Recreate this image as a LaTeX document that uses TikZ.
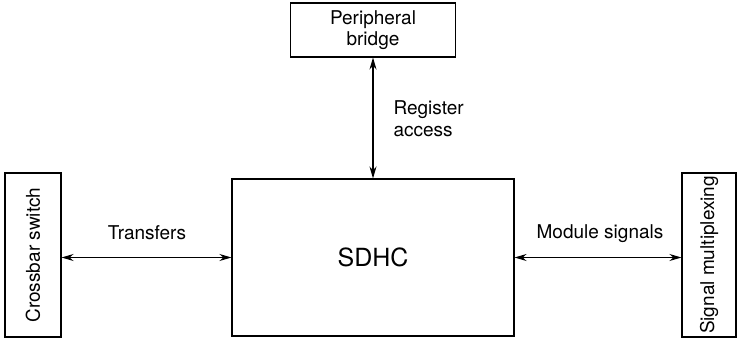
\documentclass[tikz,border=0pt]{standalone}
\usepackage{fontspec}
\setmainfont{TeX Gyre Heros}
\usetikzlibrary{arrows.meta, positioning}
\tikzset{
  blk/.style={draw, line width=1.1pt, inner sep=0pt, align=center, font=\fontsize{19}{21.5}\selectfont},
  link/.style={{Stealth[length=12pt,width=7pt]}-{Stealth[length=12pt,width=7pt]}, line width=1.1pt},
  lbl/.style={font=\fontsize{19}{22}\selectfont, align=left}
}
\begin{document}
\begin{tikzpicture}[x=1pt, y=-1pt]
\useasboundingbox (0,0) rectangle (738,339);
% blocks
\node[blk, minimum width=165pt, minimum height=54pt] (bridge) at (373,30) {Peripheral\\bridge};
\node[blk, minimum width=282pt, minimum height=157pt, font=\fontsize{25}{30}\selectfont] (sdhc) at (373,257.5) {SDHC};
\node[blk, minimum width=56pt, minimum height=164pt] (cross) at (33,255) {\rotatebox{90}{Crossbar switch}};
\node[blk, minimum width=54pt, minimum height=164pt] (mux) at (709,255) {\rotatebox{90}{Signal multiplexing}};
% connections
\draw[link] (bridge.south) -- (bridge.south |- sdhc.north);
\draw[link] (cross.east |- sdhc.west) -- (sdhc.west);
\draw[link] (sdhc.east) -- (mux.west |- sdhc.east);
% labels
\node[lbl, anchor=west] (regacc) at (390,119) {Register\\access};
\node[lbl] (xfer) at (147,233) {Transfers};
\node[lbl] (modsig) at (600,234) {Module signals};
\end{tikzpicture}
\end{document}
